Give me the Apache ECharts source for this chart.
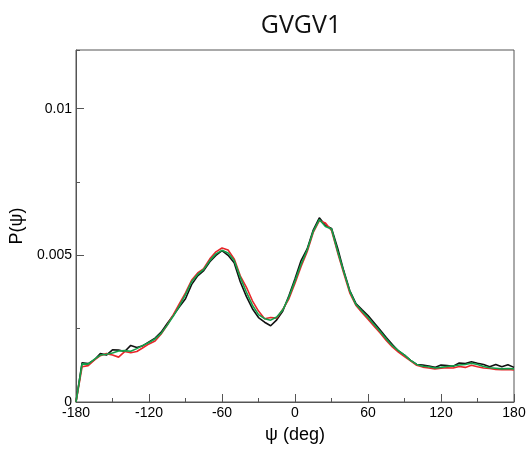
<!DOCTYPE html>
<html>
<head>
<meta charset="utf-8">
<script src="https://cdn.jsdelivr.net/npm/echarts@6/dist/echarts.min.js"></script>
<style>
html,body{margin:0;padding:0;background:#fff;}
#chart{width:532px;height:449px;}
</style>
</head>
<body>
<div id="chart"></div>
<script>
const psi = [-180,-175,-170,-165,-160,-155,-150,-145,-140,-135,-130,-125,-120,-115,-110,-105,-100,-95,-90,-85,-80,-75,-70,-65,-60,-55,-50,-45,-40,-35,-30,-25,-20,-15,-10,-5,0,5,10,15,20,25,30,35,40,45,50,55,60,65,70,75,80,85,90,95,100,105,110,115,120,125,130,135,140,145,150,155,160,165,170,175,180];

const blackVals = [0,0.00134,0.00131,0.00143,0.00165,0.00160,0.00178,0.00177,0.00172,0.00193,0.00186,0.00192,0.00205,0.00218,0.00238,0.00268,0.00296,0.00325,0.00352,0.00400,0.00430,0.00448,0.00478,0.00500,0.00516,0.00500,0.00475,0.00410,0.00360,0.00318,0.00288,0.00272,0.00260,0.00280,0.00310,0.00362,0.00420,0.00482,0.00522,0.00586,0.00628,0.00602,0.00592,0.00525,0.00448,0.00380,0.00336,0.00315,0.00295,0.00270,0.00245,0.00220,0.00196,0.00174,0.00160,0.00142,0.00128,0.00126,0.00123,0.00118,0.00126,0.00124,0.00122,0.00133,0.00131,0.00137,0.00132,0.00128,0.00120,0.00128,0.00120,0.00127,0.00118];

const redVals = [0,0.00120,0.00124,0.00143,0.00158,0.00165,0.00160,0.00153,0.00172,0.00168,0.00172,0.00185,0.00198,0.00208,0.00232,0.00262,0.00298,0.00335,0.00372,0.00415,0.00440,0.00455,0.00488,0.00512,0.00525,0.00518,0.00488,0.00430,0.00392,0.00345,0.00310,0.00284,0.00288,0.00286,0.00316,0.00352,0.00405,0.00462,0.00512,0.00578,0.00618,0.00610,0.00585,0.00510,0.00440,0.00372,0.00330,0.00305,0.00282,0.00258,0.00235,0.00210,0.00188,0.00170,0.00155,0.00140,0.00125,0.00119,0.00116,0.00113,0.00115,0.00117,0.00116,0.00121,0.00118,0.00125,0.00120,0.00116,0.00114,0.00111,0.00110,0.00111,0.00109];

const greenVals = [0,0.00130,0.00129,0.00145,0.00160,0.00163,0.00167,0.00174,0.00175,0.00173,0.00182,0.00193,0.00203,0.00215,0.00234,0.00262,0.00293,0.00328,0.00366,0.00410,0.00435,0.00452,0.00482,0.00505,0.00517,0.00508,0.00482,0.00425,0.00375,0.00330,0.00298,0.00284,0.00279,0.00290,0.00314,0.00358,0.00413,0.00470,0.00518,0.00582,0.00622,0.00598,0.00590,0.00515,0.00445,0.00378,0.00333,0.00310,0.00288,0.00264,0.00240,0.00215,0.00192,0.00175,0.00160,0.00142,0.00128,0.00122,0.00120,0.00116,0.00118,0.00121,0.00123,0.00126,0.00128,0.00132,0.00128,0.00121,0.00117,0.00115,0.00113,0.00114,0.00113];

const titleText = "GVGV1";
const xName = "ψ (deg)";
const yName = "P(ψ)";

const chart = echarts.init(document.getElementById('chart'), null, {renderer:'canvas'});
const pairs = vals => psi.map((x,i)=>[x, vals[i]]);
const lineSeries = (name, vals, color) => ({
  name, type:'line', data: pairs(vals), showSymbol:false, symbol:'none',
  lineStyle:{color, width:1.6}, itemStyle:{color}, animation:false, z:2
});
const labelFont = {fontFamily:'Liberation Sans, Arial, sans-serif', fontSize:14, color:'#000'};
chart.setOption({
  animation:false,
  title:{text:titleText, left:296, top:8, textAlign:'center',
    textStyle:{fontFamily:'Open Sans, Noto Sans, sans-serif', fontSize:25, fontWeight:'normal', color:'#111'}},
  grid:{left:76, right:18, top:50, bottom:47, outerBoundsMode:'none', containLabel:false,
    show:true, borderColor:'#555', borderWidth:1, backgroundColor:'transparent'},
  xAxis:{type:'value', min:-180, max:180, interval:60,
    name:xName, nameLocation:'middle', nameGap:24,
    nameTextStyle:{fontFamily:'Liberation Sans, Arial, sans-serif', fontSize:18, color:'#000'},
    axisLine:{show:true, onZero:false, lineStyle:{color:'#555', width:1}},
    axisTick:{show:true, inside:true, length:8, lineStyle:{color:'#555'}},
    minorTick:{show:true, splitNumber:2, length:4, lineStyle:{color:'#555'}},
    splitLine:{show:false},
    axisLabel:Object.assign({margin:4}, labelFont)},
  yAxis:[{type:'value', min:0, max:0.012, interval:0.005, position:'left',
    name:yName, nameLocation:'middle', nameGap:41, nameRotate:90,
    nameTextStyle:{fontFamily:'Liberation Sans, Arial, sans-serif', fontSize:18, color:'#000'},
    axisLine:{show:true, onZero:false, lineStyle:{color:'#555', width:1}},
    axisTick:{show:true, inside:true, length:8, lineStyle:{color:'#555'}},
    splitLine:{show:false},
    axisLabel:Object.assign({margin:4, showMaxLabel:false}, labelFont)},
   {type:'value', min:0, max:0.012, interval:0.0025, position:'left', offset:0,
    axisLine:{show:false, onZero:false},
    axisTick:{show:true, inside:true, length:4, lineStyle:{color:'#555'}},
    splitLine:{show:false}, axisLabel:{show:false}}],
  series:[
    lineSeries('black', blackVals, '#111111'),
    lineSeries('red', redVals, '#e8262a'),
    lineSeries('green', greenVals, '#12a04a')
  ]
});
</script>
</body>
</html>
